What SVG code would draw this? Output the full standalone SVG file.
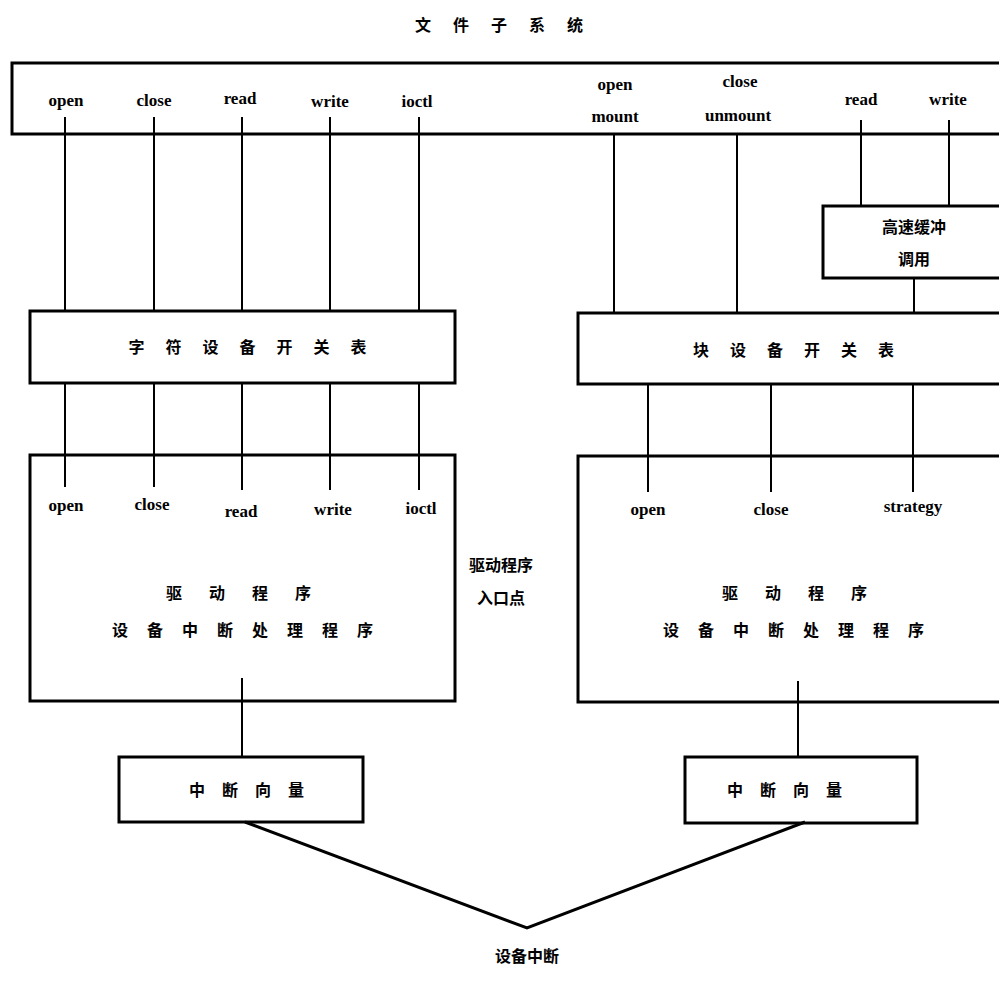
<svg xmlns="http://www.w3.org/2000/svg" width="999" height="981" viewBox="0 0 999 981">
<style>
.box{fill:#fff;stroke:#000;stroke-width:3}
.ln{stroke:#000;stroke-width:2;fill:none}
.en{font-family:"Liberation Serif",serif;font-size:17px;font-weight:bold;text-anchor:middle;fill:#000}
.zh{font-family:"Noto Sans CJK SC",sans-serif;font-size:16px;font-weight:bold;text-anchor:middle;fill:#000}
</style>
<rect width="999" height="981" fill="#fff"/>
<text class="zh" x="510" y="31" letter-spacing="22">文件子系统</text>
<g id="fs">
<rect class="box" x="12" y="63" width="992" height="71"/>
<text class="en" x="66" y="106">open</text>
<text class="en" x="154" y="106">close</text>
<text class="en" x="240" y="104">read</text>
<text class="en" x="330" y="107">write</text>
<text class="en" x="417" y="107">ioctl</text>
<text class="en" x="615" y="90">open</text>
<text class="en" x="615" y="122">mount</text>
<text class="en" x="740" y="87">close</text>
<text class="en" x="738" y="121">unmount</text>
<text class="en" x="861" y="105">read</text>
<text class="en" x="948" y="105">write</text>
</g>
<g id="cache">
<rect class="box" x="823" y="206" width="181" height="72"/>
<text class="zh" x="914" y="233">高速缓冲</text>
<text class="zh" x="914" y="265">调用</text>
</g>
<g id="cdevsw">
<rect class="box" x="30" y="311" width="425" height="72"/>
<text class="zh" x="258" y="353" letter-spacing="21">字符设备开关表</text>
</g>
<g id="bdevsw">
<rect class="box" x="578" y="313" width="426" height="71"/>
<text class="zh" x="804" y="356" letter-spacing="21">块设备开关表</text>
</g>
<g id="cdriver">
<rect class="box" x="30" y="455" width="425" height="246"/>
<text class="en" x="66" y="511">open</text>
<text class="en" x="152" y="510">close</text>
<text class="en" x="241" y="517">read</text>
<text class="en" x="333" y="515">write</text>
<text class="en" x="421" y="514">ioctl</text>
<text class="zh" x="252" y="599" letter-spacing="27">驱动程序</text>
<text class="zh" x="252" y="636" letter-spacing="19">设备中断处理程序</text>
</g>
<g id="bdriver">
<rect class="box" x="578" y="456" width="426" height="246"/>
<text class="en" x="648" y="515">open</text>
<text class="en" x="771" y="515">close</text>
<text class="en" x="913" y="512">strategy</text>
<text class="zh" x="808" y="599" letter-spacing="27">驱动程序</text>
<text class="zh" x="803" y="636" letter-spacing="19">设备中断处理程序</text>
</g>
<g id="entry">
<text class="zh" x="501" y="571">驱动程序</text>
<text class="zh" x="501" y="604">入口点</text>
</g>
<g id="cvec">
<rect class="box" x="119" y="757" width="244" height="65"/>
<text class="zh" x="255" y="796" letter-spacing="17">中断向量</text>
</g>
<g id="bvec">
<rect class="box" x="685" y="757" width="232" height="66"/>
<text class="zh" x="793" y="796" letter-spacing="17">中断向量</text>
</g>
<g id="irq">
<text class="zh" x="527" y="962">设备中断</text>
</g>
<g id="connectors">
<path class="ln" d="M65 117V311M154 117V311M242 117V311M330 117V311M419 117V311"/>
<path class="ln" d="M614 134V313M737 134V313M861 120V206M949 120V206M914 278V313"/>
<path class="ln" d="M65 383V487M154 383V487M242 383V490M330 383V490M419 383V490"/>
<path class="ln" d="M648 384V492M771 384V492M913 384V492"/>
<path class="ln" d="M242 678V757M798 681V757"/>
<path d="M245 822L527 928L805 822" fill="none" stroke="#000" stroke-width="3"/>
</g>
</svg>
